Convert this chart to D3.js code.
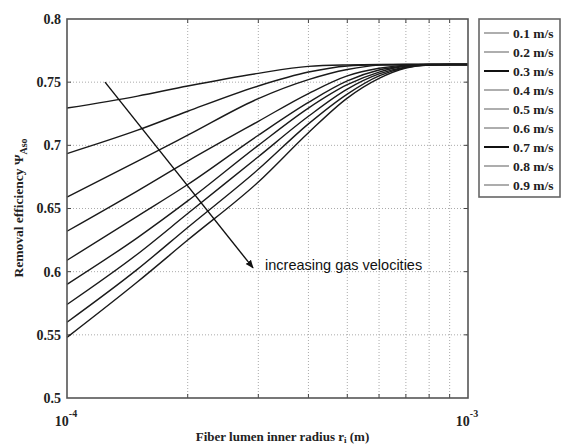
<!DOCTYPE html>
<html>
<head>
<meta charset="utf-8">
<script src="https://cdn.jsdelivr.net/npm/d3@7"></script>
<style>
  body { margin: 0; background: #fff; }
  .serif { font-family: "Liberation Serif", "Times New Roman", serif; font-weight: bold; fill: #222; }
</style>
</head>
<body>
<div id="chart"></div>
<script>
const radius = [1e-4, 1.5e-4, 2e-4, 3e-4, 4e-4, 5e-4, 6e-4, 7e-4, 8e-4, 9e-4, 1e-3];

// gas velocities (m/s)
const velocities = [0.1, 0.2, 0.3, 0.4, 0.5, 0.6, 0.7, 0.8, 0.9];

// removal efficiency per velocity, one value for each radius
const eff01 = [0.7295, 0.739, 0.747, 0.757, 0.7625, 0.7637, 0.764, 0.764, 0.764, 0.764, 0.764];
const eff02 = [0.6935, 0.712, 0.727, 0.747, 0.758, 0.7628, 0.7638, 0.764, 0.764, 0.764, 0.764];
const eff03 = [0.659, 0.6875, 0.708, 0.737, 0.752, 0.760, 0.7635, 0.764, 0.764, 0.764, 0.764];
const eff04 = [0.632, 0.664, 0.6875, 0.719, 0.741, 0.755, 0.761, 0.7635, 0.764, 0.764, 0.764];
const eff05 = [0.609, 0.644, 0.669, 0.708, 0.734, 0.751, 0.7596, 0.763, 0.764, 0.764, 0.764];
const eff06 = [0.590, 0.627, 0.656, 0.700, 0.7295, 0.748, 0.758, 0.7628, 0.764, 0.764, 0.764];
const eff07 = [0.574, 0.614, 0.646, 0.691, 0.723, 0.7445, 0.7565, 0.762, 0.7638, 0.764, 0.764];
const eff08 = [0.560, 0.602, 0.635, 0.681, 0.717, 0.7406, 0.755, 0.7616, 0.7637, 0.764, 0.764];
const eff09 = [0.548, 0.592, 0.625, 0.671, 0.710, 0.7374, 0.753, 0.7612, 0.7636, 0.764, 0.764];
const efficiency = [eff01, eff02, eff03, eff04, eff05, eff06, eff07, eff08, eff09];

// axis ticks
const yTicks = [0.5, 0.55, 0.6, 0.65, 0.7, 0.75, 0.8];
const yGrid = [0.55, 0.6, 0.65, 0.7, 0.75];
const xMinor = [2e-4, 3e-4, 4e-4, 5e-4, 6e-4, 7e-4, 8e-4, 9e-4];
const xLabels = [{v: 1e-4, exp: "-4"}, {v: 1e-3, exp: "-3"}];

// annotation arrow (radius, efficiency)
const arrowFrom = [1.244e-4, 0.75];
const arrowTo = [2.91e-4, 0.603];
const arrowText = "increasing gas velocities";

const W = 561, H = 448;
const margin = {top: 19, right: 93, bottom: 50, left: 67},
      width = W - margin.left - margin.right,
      height = H - margin.top - margin.bottom;

const svg = d3.select("#chart").append("svg")
    .attr("width", W)
    .attr("height", H);

const g = svg.append("g")
    .attr("transform", "translate(" + margin.left + "," + margin.top + ")");

const x = d3.scaleLog().domain([1e-4, 1e-3]).range([0, width]);
const y = d3.scaleLinear().domain([0.5, 0.8]).range([height, 0]);

// dotted grid
g.selectAll(".vgrid").data(xMinor).enter().append("line")
    .attr("x1", d => x(d)).attr("x2", d => x(d))
    .attr("y1", 0).attr("y2", height)
    .attr("stroke", "#aaa").attr("stroke-width", 1)
    .attr("stroke-dasharray", "1,2");

g.selectAll(".hgrid").data(yGrid).enter().append("line")
    .attr("x1", 0).attr("x2", width)
    .attr("y1", d => y(d)).attr("y2", d => y(d))
    .attr("stroke", "#aaa").attr("stroke-width", 1)
    .attr("stroke-dasharray", "1,2");

// inward ticks on all sides
const tickLen = 4;
[0, height].forEach(function(yy, i) {
    g.selectAll(".xt" + i).data(xMinor).enter().append("line")
        .attr("x1", d => x(d)).attr("x2", d => x(d))
        .attr("y1", yy).attr("y2", i ? yy - tickLen : yy + tickLen)
        .attr("stroke", "#444");
});
[0, width].forEach(function(xx, i) {
    g.selectAll(".yt" + i).data(yGrid).enter().append("line")
        .attr("y1", d => y(d)).attr("y2", d => y(d))
        .attr("x1", xx).attr("x2", i ? xx - tickLen : xx + tickLen)
        .attr("stroke", "#444");
});

// curves
const line = d3.line()
    .x(d => x(d[0]))
    .y(d => y(d[1]))
    .curve(d3.curveMonotoneX);

efficiency.forEach(function(vals) {
    g.append("path")
        .datum(radius.map((r, i) => [r, vals[i]]))
        .attr("d", line)
        .attr("fill", "none")
        .attr("stroke", "#1a1a1a")
        .attr("stroke-width", 1.4);
});

// frame
g.append("rect")
    .attr("width", width).attr("height", height)
    .attr("fill", "none")
    .attr("stroke", "#555")
    .attr("stroke-width", 1.6);

// y tick labels
g.selectAll(".ylab").data(yTicks).enter().append("text")
    .attr("class", "serif")
    .attr("x", -6)
    .attr("y", d => y(d))
    .attr("dy", "0.35em")
    .attr("text-anchor", "end")
    .style("font-size", "14px")
    .text(d => d3.format("")(d));

// x tick labels 10^n
xLabels.forEach(function(t) {
    const txt = g.append("text")
        .attr("class", "serif")
        .attr("x", x(t.v) - 1)
        .attr("y", height + 28)
        .attr("text-anchor", "middle")
        .style("font-size", "14px");
    txt.append("tspan").text("10");
    txt.append("tspan").attr("dy", -9).style("font-size", "10px").text(t.exp);
});

// axis titles
const xt = g.append("text")
    .attr("class", "serif")
    .attr("x", width / 2 + 15)
    .attr("y", height + 43)
    .attr("text-anchor", "middle")
    .style("font-size", "13px");
xt.append("tspan").text("Fiber lumen inner radius r");
xt.append("tspan").attr("dy", 2).style("font-size", "9px").text("i");
xt.append("tspan").attr("dy", -2).text("  (m)");

const yt = svg.append("text")
    .attr("class", "serif")
    .attr("transform", "translate(23," + 208 + ") rotate(-90)")
    .attr("text-anchor", "middle")
    .style("font-size", "13.5px");
yt.append("tspan").text("Removal efficiency \u03A8");
yt.append("tspan").attr("dy", 4).style("font-size", "10px").text("Aso");

// annotation arrow
svg.append("defs").append("marker")
    .attr("id", "head")
    .attr("viewBox", "0 0 10 10")
    .attr("refX", 9).attr("refY", 5)
    .attr("markerWidth", 6).attr("markerHeight", 6)
    .attr("orient", "auto")
    .append("path")
    .attr("d", "M0,1 L10,5 L0,9 Z")
    .attr("fill", "#111");

g.append("line")
    .attr("x1", x(arrowFrom[0])).attr("y1", y(arrowFrom[1]))
    .attr("x2", x(arrowTo[0])).attr("y2", y(arrowTo[1]))
    .attr("stroke", "#111")
    .attr("stroke-width", 1.4)
    .attr("marker-end", "url(#head)");

g.append("text")
    .attr("x", x(arrowTo[0]) + 12)
    .attr("y", y(arrowTo[1]) + 2)
    .style("font-family", "\"Liberation Sans\", Arial, sans-serif")
    .style("font-size", "14.5px")
    .attr("fill", "#111")
    .text(arrowText);

// legend
const legend = svg.append("g")
    .attr("transform", "translate(479,19)");

legend.append("rect")
    .attr("width", 81).attr("height", 178)
    .attr("fill", "#fff")
    .attr("stroke", "#666")
    .attr("stroke-width", 1.6);

velocities.forEach(function(v, i) {
    const heavy = (v === 0.3 || v === 0.7);
    const yy = 14 + i * 19;
    legend.append("line")
        .attr("x1", 5).attr("x2", 30)
        .attr("y1", yy).attr("y2", yy)
        .attr("stroke", heavy ? "#111" : "#777")
        .attr("stroke-width", heavy ? 2 : 1.2);
    legend.append("text")
        .attr("class", "serif")
        .attr("x", 34)
        .attr("y", yy)
        .attr("dy", "0.35em")
        .style("font-size", "13.5px")
        .text(v + " m/s");
});
</script>
</body>
</html>
